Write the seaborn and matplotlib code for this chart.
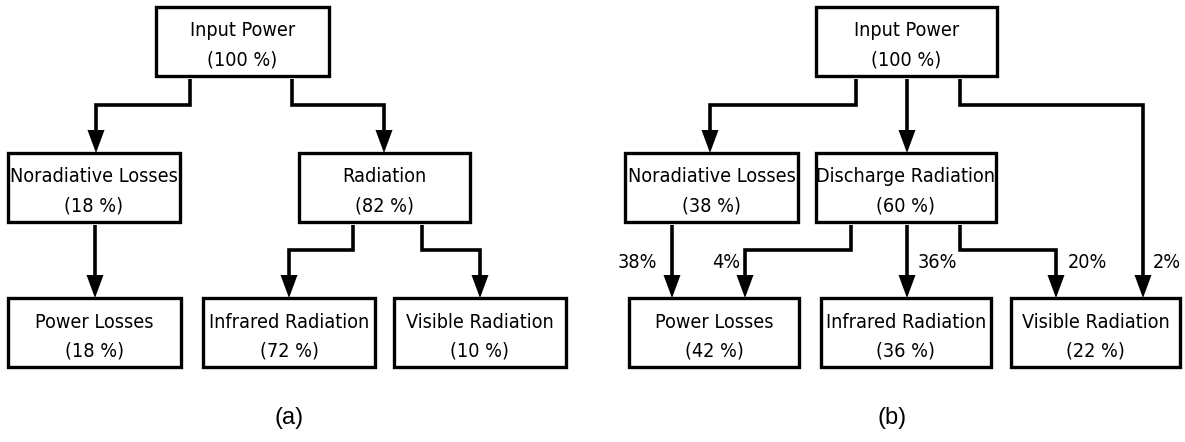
import matplotlib
matplotlib.use("Agg")
import matplotlib.pyplot as plt
import seaborn as sns
from matplotlib import font_manager
from matplotlib.patches import Rectangle, Polygon

# node names and shares (%) for the two panels
names_a = ["Input Power", "Noradiative Losses", "Radiation",
           "Power Losses", "Infrared Radiation", "Visible Radiation"]
share_a = [100, 18, 82, 18, 72, 10]

names_b = ["Input Power", "Noradiative Losses", "Discharge Radiation",
           "Power Losses", "Infrared Radiation", "Visible Radiation"]
share_b = [100, 38, 60, 42, 36, 22]

# flow labels on the arrows into the bottom row of panel (b)
flow_b = [38, 4, 36, 20, 2]

panel_tags = ["(a)", "(b)"]

# layout in pixels (x0, x1, y0, y1), y grows downwards
boxes_a = [(156, 329, 7, 76), (8, 180, 153, 222), (299, 470, 153, 222),
           (8, 181, 298, 367), (203, 375, 298, 367), (394, 566, 298, 367)]
boxes_b = [(816, 997, 7, 76), (625, 798, 153, 222), (816, 996, 153, 222),
           (629, 799, 298, 367), (821, 991, 298, 367), (1011, 1180, 298, 367)]

paths_a = [
    [(190, 79), (190, 105), (96, 105), (96, 153)],
    [(292, 79), (292, 105), (384, 105), (384, 153)],
    [(95, 225), (95, 298)],
    [(353, 225), (353, 250), (289, 250), (289, 298)],
    [(422, 225), (422, 250), (480, 250), (480, 298)],
]
paths_b = [
    [(856, 79), (856, 105), (710, 105), (710, 153)],
    [(907, 79), (907, 153)],
    [(960, 79), (960, 105), (1143, 105), (1143, 298)],
    [(672, 225), (672, 298)],
    [(851, 225), (851, 250), (745, 250), (745, 298)],
    [(907, 225), (907, 298)],
    [(960, 225), (960, 250), (1056, 250), (1056, 298)],
]
# where the flow labels sit: (x, y, ha)
flow_pos = [(657, 262, "right"), (740, 262, "right"), (918, 262, "left"),
            (1068, 262, "left"), (1153, 262, "left")]
tag_pos = [(289, 418), (892, 418)]

sns.set_theme(style="white")
plt.rcParams["font.family"] = ["Liberation Sans", "DejaVu Sans"]
plt.rcParams["text.color"] = "black"

# pick a narrow face if one is installed, else shrink the regular one
fonts = font_manager.fontManager.ttflist
narrow_kw = dict(family=["Liberation Sans", "DejaVu Sans"], fontsize=13.6)
if any(f.name == "Liberation Sans Narrow" for f in fonts):
    narrow_kw = dict(family=["Liberation Sans Narrow", "DejaVu Sans"], fontsize=15.5)
elif any(f.name == "DejaVu Sans" and f.stretch == "condensed" for f in fonts):
    narrow_kw = dict(family=["DejaVu Sans"], fontstretch="condensed", fontsize=14.2)

fig = plt.figure(figsize=(11.85, 4.42), dpi=100)
ax = fig.add_axes([0, 0, 1, 1])
ax.set_xlim(0, 1185)
ax.set_ylim(442, 0)
ax.axis("off")

LW = 2.4


def draw_box(b, name, val):
    x0, x1, y0, y1 = b
    ax.add_patch(Rectangle((x0, y0), x1 - x0, y1 - y0, fill=False,
                           edgecolor="black", linewidth=LW, joinstyle="miter"))
    cx = (x0 + x1) / 2
    ax.text(cx, y0 + 24, name, ha="center", va="center", color="black", **narrow_kw)
    ax.text(cx, y0 + 53, f"({val} %)", ha="center", va="center", color="black", **narrow_kw)


def draw_arrow(pts):
    xs = [p[0] for p in pts]
    ys = [p[1] for p in pts]
    tipx, tipy = xs[-1], ys[-1]
    ys[-1] = tipy - 20
    ax.plot(xs, ys, color="black", linewidth=LW + 0.2,
            solid_joinstyle="miter", solid_capstyle="butt")
    ax.add_patch(Polygon([(tipx - 8.5, tipy - 23), (tipx + 8.5, tipy - 23), (tipx, tipy)],
                         closed=True, color="black", linewidth=0))


for b, n, v in zip(boxes_a, names_a, share_a):
    draw_box(b, n, v)
for b, n, v in zip(boxes_b, names_b, share_b):
    draw_box(b, n, v)
for p in paths_a + paths_b:
    draw_arrow(p)

for (x, y, ha), v in zip(flow_pos, flow_b):
    ax.text(x, y, f"{v}%", ha=ha, va="center", color="black", **narrow_kw)

for (x, y), t in zip(tag_pos, panel_tags):
    ax.text(x, y, t, ha="center", va="center", fontsize=17, color="black")

fig.savefig("out.png", dpi=100, facecolor="white")
